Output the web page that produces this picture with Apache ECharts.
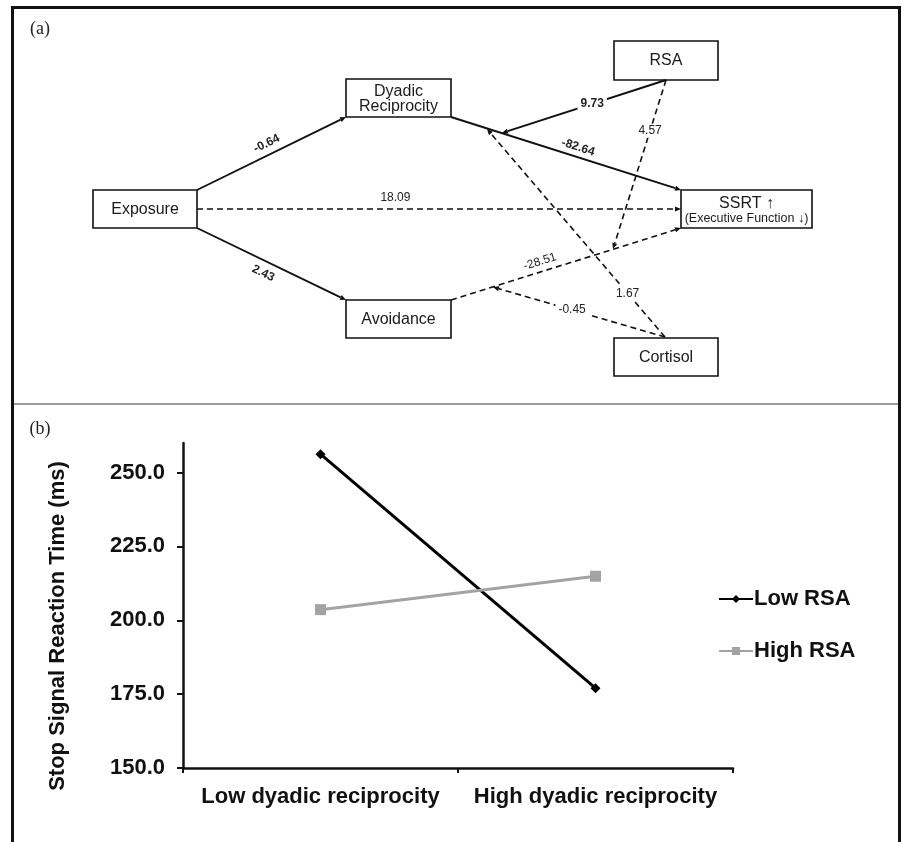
<!DOCTYPE html>
<html>
<head>
<meta charset="utf-8">
<script src="https://cdn.jsdelivr.net/npm/echarts@6/dist/echarts.min.js"></script>
<style>
  html, body { margin: 0; padding: 0; background: #fff; }
  #chart { width: 905px; height: 842px; }
</style>
</head>
<body>
<div id="chart"></div>
<script>
// ---------- DATA ----------
// Panel (a): path model
const nodeNames = ['Exposure', 'Dyadic Reciprocity', 'Avoidance', 'RSA', 'SSRT', 'Cortisol'];
const nodeLabels = ['Exposure', 'Dyadic\nReciprocity', 'Avoidance', 'RSA', 'SSRT ↑', 'Cortisol'];
const nodeSubLabels = ['', '', '', '', '(Executive Function ↓)', ''];
const pathFrom = ['Exposure', 'Exposure', 'Exposure', 'Dyadic Reciprocity', 'Avoidance', 'RSA', 'RSA', 'Cortisol', 'Cortisol'];
const pathTo = ['Dyadic Reciprocity', 'Avoidance', 'SSRT', 'SSRT', 'SSRT', 'Dyadic Reciprocity → SSRT', 'Avoidance → SSRT', 'Dyadic Reciprocity → SSRT', 'Avoidance → SSRT'];
const pathCoef = [-0.64, 2.43, 18.09, -82.64, -28.51, 9.73, 4.57, 1.67, -0.45];
const pathSignificant = [true, true, false, true, false, true, false, false, false];

// Panel (b): interaction plot
const categories = ['Low dyadic reciprocity', 'High dyadic reciprocity'];
const seriesNames = ['Low RSA', 'High RSA'];
const lowRSA = [256.2, 177.0];
const highRSA = [203.6, 214.9];
const yTicks = [150, 175, 200, 225, 250];
const yTitle = 'Stop Signal Reaction Time (ms)';

// ---------- LAYOUT (diagram geometry, not data) ----------
const boxRect = {
  'Exposure': [93, 190, 104, 38],
  'Dyadic Reciprocity': [346, 79, 105, 38],
  'Avoidance': [346, 300, 105, 38],
  'RSA': [614, 41, 104, 39],
  'SSRT': [681, 190, 131, 38],
  'Cortisol': [614, 338, 104, 38]
};
// [x1, y1, x2, y2, labelT, labelOffset, rotateLabel]
const pathGeom = [
  [197, 190, 346, 117, 0.50, 11, true],
  [197, 228, 346, 300, 0.48, -12, true],
  [197, 209, 681, 209, 0.41, 11, false],
  [451, 117, 681, 190, 0.54, 9.5, true],
  [451, 300, 681, 228, 0.40, 10, true],
  [666, 80, 502, 133, 0.45, 0, false],
  [666, 80, 613, 249, 0.30, 0, false],
  [665, 337, 487, 129, 0.21, 0, false],
  [665, 337, 493, 287, 0.54, 0, false]
];

const FONT = '"Liberation Sans", Arial, sans-serif';

const chart = echarts.init(document.getElementById('chart'), null, { renderer: 'canvas' });

function renderBox(params, api) {
  const name = nodeNames[params.dataIndex];
  const r = boxRect[name];
  const p0 = api.coord([r[0], r[1]]);
  const p1 = api.coord([r[0] + r[2], r[1] + r[3]]);
  const w = p1[0] - p0[0], h = p1[1] - p0[1];
  const sub = nodeSubLabels[params.dataIndex];
  const multi = nodeLabels[params.dataIndex].indexOf('\n') >= 0;
  const textStyle = sub ? {
    text: '{a|' + nodeLabels[params.dataIndex] + '}\n{b|' + sub + '}',
    rich: {
      a: { fontSize: 16, lineHeight: 15, fontFamily: FONT, fill: '#1a1a1a', align: 'center' },
      b: { fontSize: 12.5, lineHeight: 14, fontFamily: FONT, fill: '#1a1a1a', align: 'center' }
    },
    align: 'center', verticalAlign: 'middle'
  } : {
    text: nodeLabels[params.dataIndex],
    fontSize: 16, lineHeight: 15, fontFamily: FONT, fill: '#1a1a1a',
    align: 'center', verticalAlign: 'middle'
  };
  return {
    type: 'group',
    children: [
      { type: 'rect', shape: { x: p0[0], y: p0[1], width: w, height: h },
        style: { fill: '#fff', stroke: '#111', lineWidth: 1.6 } },
      { type: 'text', x: p0[0] + w / 2, y: p0[1] + h / 2 + (sub ? 2 : (multi ? 1.5 : 0.5)), style: textStyle, z2: 5 }
    ]
  };
}

function renderPath(params, api) {
  const i = params.dataIndex;
  const g = pathGeom[i];
  const a = api.coord([g[0], g[1]]);
  const b = api.coord([g[2], g[3]]);
  const dx = b[0] - a[0], dy = b[1] - a[1];
  const L = Math.hypot(dx, dy);
  const ux = dx / L, uy = dy / L;
  const ah = 6, aw = 2.6;
  const base = [b[0] - ux * ah, b[1] - uy * ah];
  const dashed = !pathSignificant[i];
  let nx = uy, ny = -ux;
  if (ny > 0) { nx = -nx; ny = -ny; }
  const t = g[4], off = g[5];
  const lx = a[0] + dx * t + nx * off;
  const ly = a[1] + dy * t + ny * off;
  let ang = Math.atan2(dy, dx);
  if (ang > Math.PI / 2) ang -= Math.PI;
  if (ang < -Math.PI / 2) ang += Math.PI;
  const onLine = off === 0;
  return {
    type: 'group',
    children: [
      { type: 'line', shape: { x1: a[0], y1: a[1], x2: base[0], y2: base[1] },
        style: { stroke: '#111', lineWidth: dashed ? 1.6 : 1.9, lineDash: dashed ? [6, 4] : null }, z2: 1 },
      { type: 'polygon', shape: { points: [[b[0], b[1]], [base[0] + uy * aw, base[1] - ux * aw], [base[0] - uy * aw, base[1] + ux * aw]] },
        style: { fill: '#111' }, z2: 1 },
      { type: 'text', x: lx, y: ly, rotation: g[6] ? -ang : 0,
        style: {
          text: pathCoef[i].toFixed(2),
          fontSize: 12, fontWeight: pathSignificant[i] ? 'bold' : 'normal', fontFamily: FONT, fill: '#222',
          align: 'center', verticalAlign: 'middle',
          backgroundColor: onLine ? '#fff' : null, padding: onLine ? [1, 3] : 0
        }, z2: 10 }
    ]
  };
}

const option = {
  backgroundColor: '#fff',
  animation: false,
  grid: [
    { left: 0, top: 0, right: 0, bottom: 0 },
    { left: 183, top: 443, width: 550, height: 325 }
  ],
  xAxis: [
    { gridIndex: 0, type: 'value', min: 0, max: 905, show: false },
    {
      gridIndex: 1, type: 'category', data: categories, boundaryGap: true,
      axisLine: { lineStyle: { color: '#111', width: 2.5 } },
      axisTick: { show: true, length: 5, lineStyle: { color: '#111', width: 2 } },
      axisLabel: { interval: 0, fontSize: 22, fontWeight: 'bold', fontFamily: FONT, color: '#111', margin: 18 },
      splitLine: { show: false }
    }
  ],
  yAxis: [
    { gridIndex: 0, type: 'value', min: 0, max: 842, inverse: true, show: false },
    {
      gridIndex: 1, type: 'value', min: 150, max: 260, interval: 25,
      axisLine: { show: true, lineStyle: { color: '#111', width: 2.5 } },
      axisTick: { show: true, length: 6, customValues: yTicks, lineStyle: { color: '#111', width: 2 } },
      axisLabel: { customValues: yTicks, formatter: v => v.toFixed(1), fontSize: 22, fontWeight: 'bold',
        fontFamily: FONT, color: '#111', margin: 18 },
      splitLine: { show: false }
    }
  ],
  legend: {
    data: seriesNames,
    orient: 'vertical',
    left: 718, top: 588, padding: 0,
    itemWidth: 34, itemHeight: 10, itemGap: 30,
    textStyle: { fontSize: 22, fontWeight: 'bold', fontFamily: FONT, color: '#111', padding: [0, 0, 0, -4] }
  },
  graphic: [
    { type: 'text', x: 58, y: 626, rotation: Math.PI / 2,
      style: { text: yTitle, fontSize: 22, fontWeight: 'bold', fontFamily: FONT, fill: '#111', align: 'center', verticalAlign: 'middle' } },
    { type: 'text', x: 40, y: 29,
      style: { text: '(a)', fontSize: 18, fontFamily: '"Liberation Serif", "Times New Roman", serif', fill: '#222', align: 'center', verticalAlign: 'middle' } },
    { type: 'text', x: 40, y: 429,
      style: { text: '(b)', fontSize: 18, fontFamily: '"Liberation Serif", "Times New Roman", serif', fill: '#222', align: 'center', verticalAlign: 'middle' } },
    { type: 'line', shape: { x1: 13, y1: 404, x2: 899, y2: 404 }, style: { stroke: '#9a9a9a', lineWidth: 2 } },
    { type: 'rect', shape: { x: 12.5, y: 7.5, width: 887, height: 860 }, style: { fill: null, stroke: '#111', lineWidth: 3 } }
  ],
  series: [
    {
      type: 'custom', name: 'paths', coordinateSystem: 'cartesian2d', xAxisIndex: 0, yAxisIndex: 0,
      data: pathCoef.map((c, i) => [i, c]), renderItem: renderPath, silent: true
    },
    {
      type: 'custom', name: 'boxes', coordinateSystem: 'cartesian2d', xAxisIndex: 0, yAxisIndex: 0,
      data: nodeNames.map((n, i) => [i, 0]), renderItem: renderBox, silent: true
    },
    {
      name: seriesNames[0], type: 'line', xAxisIndex: 1, yAxisIndex: 1, data: lowRSA,
      symbol: 'diamond', symbolSize: 10,
      lineStyle: { color: '#000', width: 3 }, itemStyle: { color: '#000' }
    },
    {
      name: seriesNames[1], type: 'line', xAxisIndex: 1, yAxisIndex: 1, data: highRSA,
      symbol: 'rect', symbolSize: 11,
      lineStyle: { color: '#a3a3a3', width: 3 }, itemStyle: { color: '#a3a3a3' }
    }
  ]
};
chart.setOption(option);
</script>
</body>
</html>
